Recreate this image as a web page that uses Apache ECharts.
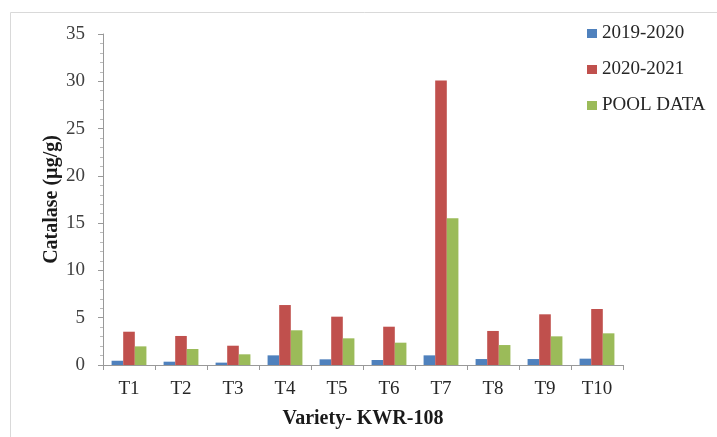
<!DOCTYPE html>
<html>
<head>
<meta charset="utf-8">
<script src="https://cdn.jsdelivr.net/npm/echarts@6/dist/echarts.min.js"></script>
<style>html,body{margin:0;padding:0;background:#fff;}#c{width:717px;height:437px;}</style>
</head>
<body>
<div id="c"></div>
<script>
var categories = ['T1','T2','T3','T4','T5','T6','T7','T8','T9','T10'];
var s2019 = [0.45, 0.35, 0.25, 1.02, 0.6, 0.53, 1.02, 0.63, 0.63, 0.67];
var s2020 = [3.52, 3.07, 2.04, 6.34, 5.11, 4.05, 30.07, 3.6, 5.36, 5.92];
var sPool = [1.97, 1.69, 1.13, 3.67, 2.82, 2.36, 15.51, 2.11, 3.03, 3.35];
var seriesNames = ['2019-2020', '2020-2021', 'POOL DATA'];

var font = '"Liberation Serif", "Times New Roman", serif';
var chart = echarts.init(document.getElementById('c'));
function bar(name, data, color) {
  return { name: name, type: 'bar', data: data, barGap: '0%', barCategoryGap: '33%',
    itemStyle: { color: color }, animation: false };
}
chart.setOption({
  animation: false,
  graphic: [{ type: 'rect', shape: { x: 10.5, y: 12.5, width: 720, height: 440 },
    style: { fill: 'none', stroke: '#d9d9d9', lineWidth: 1 } }],
  grid: { left: 103, right: 94, top: 34, bottom: 72 },
  legend: {
    orient: 'vertical', left: 582, top: 19, itemWidth: 10, itemHeight: 9, itemGap: 17,
    icon: 'rect',
    textStyle: { fontFamily: font, fontSize: 19, lineHeight: 19, color: '#262626' },
    data: seriesNames
  },
  xAxis: {
    type: 'category', data: categories,
    name: 'Variety- KWR-108', nameLocation: 'middle', nameGap: 44, nameMoveOverlap: false,
    nameTextStyle: { fontFamily: font, fontSize: 20, fontWeight: 'bold', color: '#1a1a1a' },
    axisLine: { lineStyle: { color: '#999' } },
    axisTick: { show: true, length: 5, lineStyle: { color: '#999' } },
    axisLabel: { fontFamily: font, fontSize: 19, color: '#262626', margin: 15 }
  },
  yAxis: {
    type: 'value', min: 0, max: 35, interval: 5,
    name: 'Catalase (µg/g)', nameLocation: 'middle', nameGap: 41, nameMoveOverlap: false,
    nameTextStyle: { fontFamily: font, fontSize: 20, fontWeight: 'bold', color: '#1a1a1a' },
    axisLine: { show: true, lineStyle: { color: '#999' } },
    axisTick: { show: true, length: 5, lineStyle: { color: '#999' } },
    minorTick: { show: true, splitNumber: 5, length: 3, lineStyle: { color: '#bbb' } },
    splitLine: { show: false },
    axisLabel: { fontFamily: font, fontSize: 19, color: '#404040', margin: 18 }
  },
  series: [
    bar(seriesNames[0], s2019, '#4F81BD'),
    bar(seriesNames[1], s2020, '#C0504D'),
    bar(seriesNames[2], sPool, '#9BBB59')
  ]
});
</script>
</body>
</html>
